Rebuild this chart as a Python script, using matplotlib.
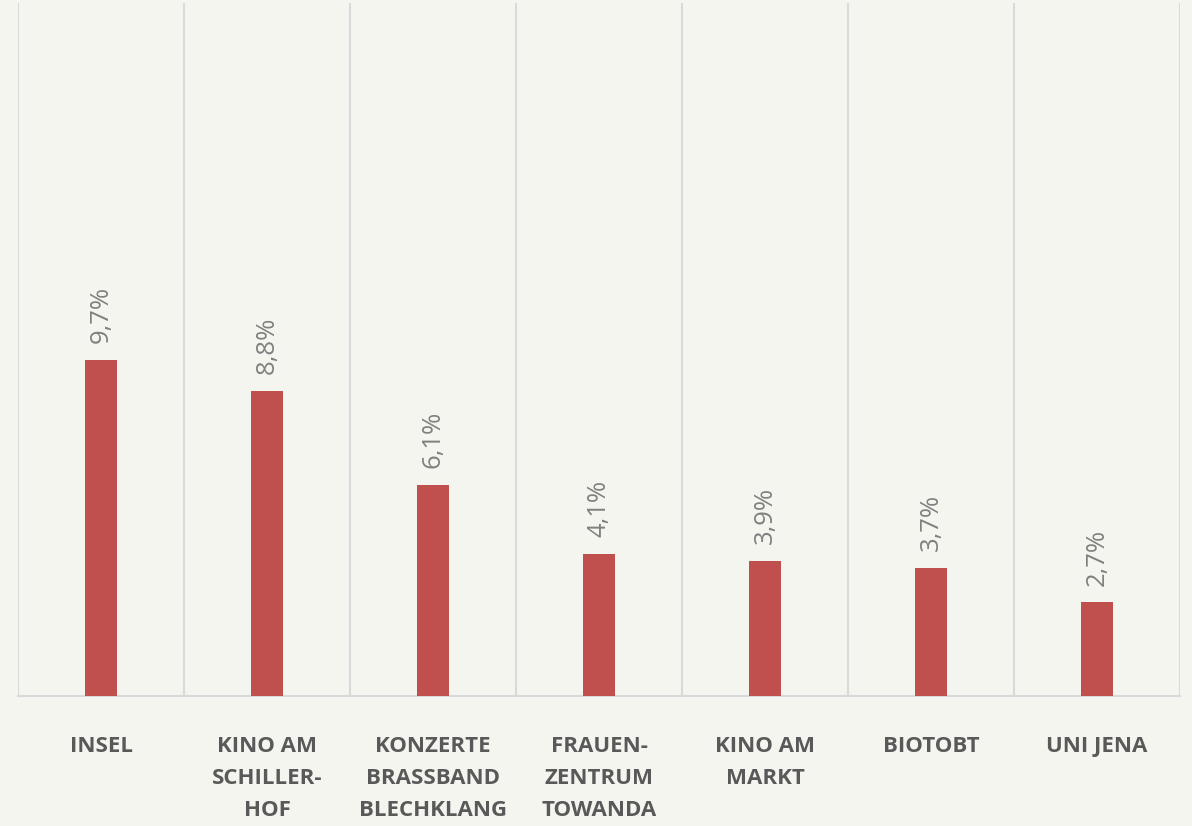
import matplotlib
matplotlib.use("Agg")
import matplotlib.pyplot as plt
import numpy as np

categories = ["INSEL", "KINO AM\nSCHILLER-\nHOF", "KONZERTE\nBRASSBAND\nBLECHKLANG",
              "FRAUEN-\nZENTRUM\nTOWANDA", "KINO AM\nMARKT", "BIOTOBT", "UNI JENA"]
values = [9.7, 8.8, 6.1, 4.1, 3.9, 3.7, 2.7]
value_labels = ["9,7%", "8,8%", "6,1%", "4,1%", "3,9%", "3,7%", "2,7%"]

bg = "#f5f5f0"
fig = plt.figure(figsize=(11.92, 8.26), dpi=100, facecolor=bg)
ax = fig.add_axes([18/1192, 130/826, (1180-18)/1192, (696-3)/826])
ax.set_facecolor(bg)

x = np.arange(len(categories))
ax.bar(x, values, width=0.187, color="#c0504d", zorder=3)
ax.set_xlim(-0.5, len(categories) - 0.5)
ax.set_ylim(0, 20)

for xi, v, lab in zip(x, values, value_labels):
    ax.annotate(lab, (xi, v), xytext=(0, 12), textcoords="offset points",
                rotation=90, ha="center", va="bottom", fontsize=18.5,
                color="#808080", family="Open Sans")

for b in np.arange(-0.5, len(categories), 1.0):
    ax.axvline(b, color="#d9d9d9", lw=1.5, zorder=1)

for s in ["top", "right", "left"]:
    ax.spines[s].set_visible(False)
ax.spines["bottom"].set_color("#d9d9d9")
ax.spines["bottom"].set_linewidth(1.5)
ax.set_yticks([])
ax.set_xticks(x)
ax.set_xticklabels(categories, fontsize=16, fontweight="bold", color="#595959",
                   family="Open Sans", linespacing=1.69)
ax.tick_params(axis="x", length=0, pad=29)

fig.savefig("out.png", dpi=100, facecolor=bg)
